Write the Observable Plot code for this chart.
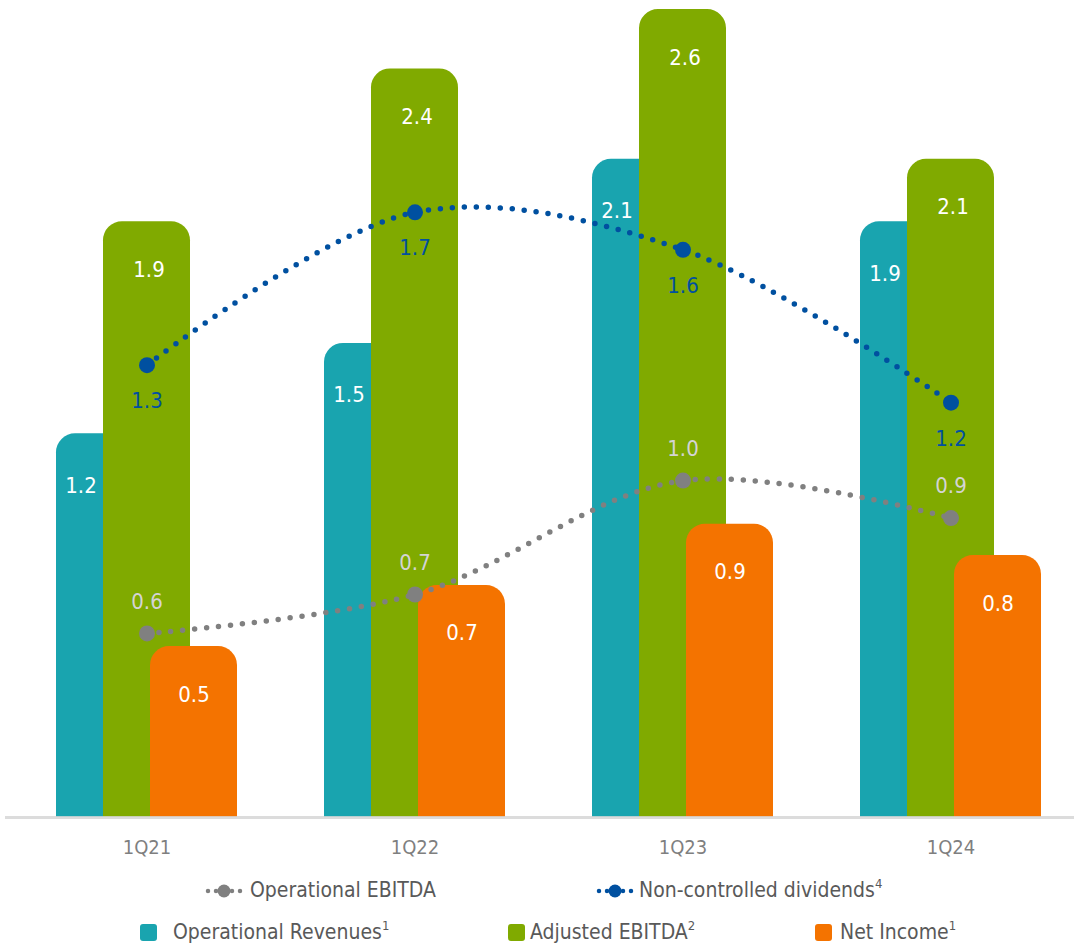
<!DOCTYPE html>
<html><head><meta charset="utf-8">
<script src="https://cdn.jsdelivr.net/npm/d3@7"></script>
<script src="https://cdn.jsdelivr.net/npm/@observablehq/plot@0.6"></script>
<style>
body{margin:0;background:#fff;font-family:"DejaVu Sans Condensed","DejaVu Sans",sans-serif;}
#wrap{position:relative;width:1074px;height:944px;overflow:hidden;}
.leg{position:absolute;color:#595959;font-size:21px;white-space:nowrap;line-height:21px;}
.leg sup{font-size:13px;position:relative;top:-3px;vertical-align:top;line-height:13px;}
.sw{position:absolute;width:17px;height:17px;border-radius:3px;}
.mk{position:absolute;}
</style></head><body><div id="wrap"></div>
<script>
const quarters = ["1Q21", "1Q22", "1Q23", "1Q24"];
const operationalRevenues = [1.23, 1.52, 2.11, 1.91];
const adjustedEbitda = [1.91, 2.40, 2.59, 2.11];
const netIncome = [0.548, 0.744, 0.94, 0.84];
// line series as drawn on the shared axis, with their printed labels
const operationalEbitda = [0.59, 0.715, 1.08, 0.96];
const operationalEbitdaLabels = ["0.6", "0.7", "1.0", "0.9"];
const dividends = [1.45, 1.94, 1.82, 1.33];
const dividendsLabels = ["1.3", "1.7", "1.6", "1.2"];

const C = {teal: "#19a4af", green: "#80aa00", orange: "#f47300", blue: "#0050a0", gray: "#808080"};
const fmt = d3.format(".1f");
const rows = (vals) => quarters.map((q, i) => ({q, v: vals[i]}));
const rev = rows(operationalRevenues), adj = rows(adjustedEbitda), ni = rows(netIncome);
const oe = quarters.map((q, i) => ({q, v: operationalEbitda[i], t: operationalEbitdaLabels[i]}));
const dv = quarters.map((q, i) => ({q, v: dividends[i], t: dividendsLabels[i]}));

const font = "DejaVu Sans Condensed";
const chart = Plot.plot({
  width: 1074, height: 870,
  marginLeft: 48, marginRight: 26, marginTop: 6, marginBottom: 53,
  style: {fontFamily: font, background: "transparent", color: "#7f7f7f"},
  x: {type: "band", domain: quarters, paddingInner: 0.676, paddingOuter: 0.2, label: null},
  y: {domain: [0, 2.6], axis: null},
  marks: [
    Plot.barY(rev, {x: "q", y: "v", fill: C.teal, dx: -47, ry1: 19}),
    Plot.barY(adj, {x: "q", y: "v", fill: C.green, ry1: 19}),
    Plot.barY(ni, {x: "q", y: "v", fill: C.orange, dx: 47, ry1: 19}),
    Plot.ruleY([0], {stroke: "#d6d6d6", strokeWidth: 3, strokeOpacity: 0.85, insetLeft: -43, insetRight: -26}),
    Plot.text(rev, {x: "q", y: "v", text: d => fmt(d.v), dx: -66, dy: 52, fill: "white", fontSize: 22}),
    Plot.text(adj, {x: "q", y: "v", text: d => fmt(d.v), dx: 2, dy: 48, fill: "white", fontSize: 22}),
    Plot.text(ni, {x: "q", y: "v", text: d => fmt(d.v), dx: 47, dy: 48, fill: "white", fontSize: 22}),
    Plot.line(oe, {x: "q", y: "v", curve: "catmull-rom", stroke: C.gray, strokeWidth: 5.5, strokeDasharray: "0 12", strokeLinecap: "round"}),
    Plot.line(dv, {x: "q", y: "v", curve: "catmull-rom", stroke: C.blue, strokeWidth: 5.5, strokeDasharray: "0 12", strokeLinecap: "round"}),
    Plot.dot(oe, {x: "q", y: "v", r: 8, fill: C.gray}),
    Plot.dot(dv, {x: "q", y: "v", r: 8, fill: C.blue}),
    Plot.text(oe, {x: "q", y: "v", text: "t", dy: -32, fill: "#d4d4d4", fontSize: 22}),
    Plot.text(dv, {x: "q", y: "v", text: "t", dy: 36, fill: C.blue, fontSize: 22}),
    Plot.axisX({tickSize: 0, tickPadding: 22, fontSize: 20, fill: "#7f7f7f", label: null})
  ]
});
const wrap = document.getElementById("wrap");
wrap.appendChild(chart);

function lineMarker(left, top, color) {
  const ns = "http://www.w3.org/2000/svg";
  const s = document.createElementNS(ns, "svg");
  s.setAttribute("width", 40); s.setAttribute("height", 18);
  s.setAttribute("class", "mk");
  s.style.left = left + "px"; s.style.top = top + "px";
  s.innerHTML = `<line x1="3" x2="37" y1="9" y2="9" stroke="${color}" stroke-width="4.5" stroke-dasharray="0 8" stroke-linecap="round"/><circle cx="19" cy="9" r="6.5" fill="${color}"/>`;
  wrap.appendChild(s);
}
function swatch(left, top, color) {
  const d = document.createElement("div");
  d.className = "sw"; d.style.left = left + "px"; d.style.top = top + "px"; d.style.background = color;
  wrap.appendChild(d);
}
function label(left, top, html) {
  const d = document.createElement("div");
  d.className = "leg"; d.style.left = left + "px"; d.style.top = top + "px"; d.innerHTML = html;
  wrap.appendChild(d);
}
lineMarker(205, 882, C.gray); label(250, 880, "Operational EBITDA");
lineMarker(596, 882, C.blue); label(639, 880, "Non-controlled dividends<sup>4</sup>");
swatch(140, 924, C.teal); label(173, 922, "Operational Revenues<sup>1</sup>");
swatch(508, 924, C.green); label(530, 922, "Adjusted EBITDA<sup>2</sup>");
swatch(815, 924, C.orange); label(840, 922, "Net Income<sup>1</sup>");
</script></body></html>
